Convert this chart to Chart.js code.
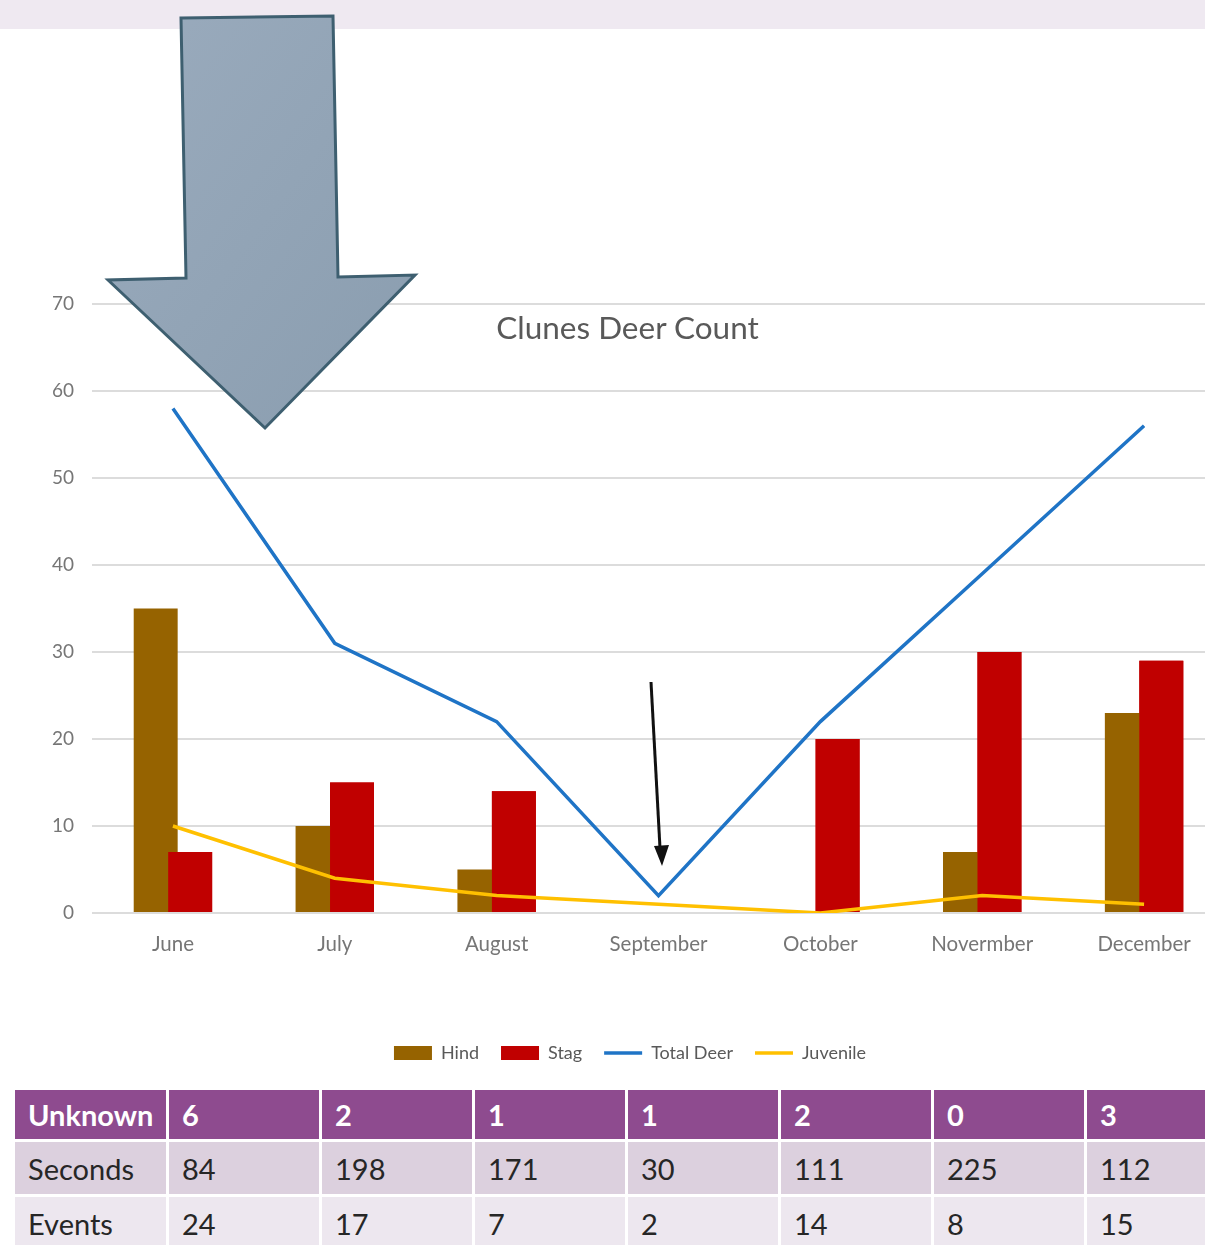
<!DOCTYPE html>
<html>
<head>
<meta charset="utf-8">
<script src="https://cdn.jsdelivr.net/npm/chart.js@4"></script>
<style>
  html, body { margin: 0; padding: 0; background: #fff; }
  body { width: 1205px; height: 1245px; overflow: hidden; position: relative; font-family: Lato, "Open Sans", sans-serif; }
  #band { position: absolute; left: 0; top: 0; width: 1205px; height: 29px; background: #efe9f1; }
  #chartBox { position: absolute; left: 0; top: 30px; width: 1225px; height: 1060px; }
  #title { position: absolute; left: 0; width: 1255px; top: 312px; text-align: center;
           font: 31.5px/31px Lato, sans-serif; color: #595959; }
  #marks { position: absolute; left: 0; top: 0; pointer-events: none; }
  #counts { position: absolute; left: 15px; top: 1090px; width: 1225px; border-collapse: separate; border-spacing: 0; table-layout: fixed; }
  #counts td { font-size: 29px; color: #262626; padding: 0 0 0 13px; vertical-align: middle;
               border-right: 3px solid #fff; border-bottom: 3px solid #fff; white-space: nowrap; }
  #counts tr.head td { background: #8e4b8f; color: #fff; font-weight: bold; height: 49px; }
  #counts tr.odd td { background: #dcd0de; height: 52px; }
  #counts tr.even td { background: #ede7ef; height: 52px; }
</style>
</head>
<body>
<div id="band"></div>
<div id="chartBox"><canvas id="deerChart" width="1225" height="1060"></canvas></div>
<div id="title">Clunes Deer Count</div>
<table id="counts"></table>
<svg id="marks" width="1205" height="1245">
  <defs>
    <linearGradient id="arrowFill" x1="0" y1="0" x2="1" y2="1">
      <stop offset="0" stop-color="#9aabbd"/>
      <stop offset="1" stop-color="#8a9daf"/>
    </linearGradient>
  </defs>
  <polygon points="181,18 333,16 338,277 415,275 265,428 108,280 186,278"
           fill="url(#arrowFill)" stroke="#3e5f70" stroke-width="3" stroke-linejoin="miter"/>
  <line x1="651" y1="682" x2="660" y2="848" stroke="#111" stroke-width="3"/>
  <polygon points="654,846 669,845 662,866" fill="#111"/>
</svg>

<script>
const months = ['June', 'July', 'August', 'September', 'October', 'Novermber', 'December'];
const hind = [35, 10, 5, 0, 0, 7, 23];
const stag = [7, 15, 14, 0, 20, 30, 29];
const totalDeer = [58, 31, 22, 2, 22, 39, 56];
const juvenile = [10, 4, 2, 1, 0, 2, 1];
const yMax = 70;
const yStep = 10;

const unknownRow = [6, 2, 1, 1, 2, 0, 3];
const secondsRow = [84, 198, 171, 30, 111, 225, 112];
const eventsRow = [24, 17, 7, 2, 14, 8, 15];

// table under the chart
const table = document.getElementById('counts');
const colgroup = document.createElement('colgroup');
colgroup.innerHTML = '<col style="width:154px">' + months.map(() => '<col style="width:153px">').join('');
table.appendChild(colgroup);
[['Unknown', unknownRow, 'head'], ['Seconds', secondsRow, 'odd'], ['Events', eventsRow, 'even']].forEach(([label, vals, cls]) => {
    const tr = document.createElement('tr');
    tr.className = cls;
    tr.innerHTML = '<td>' + label + '</td>' + vals.map(v => '<td>' + v + '</td>').join('');
    table.appendChild(tr);
});

// keep Stag painted over the overlapping Hind bar
const stagOnTop = {
    id: 'stagOnTop',
    afterDatasetDraw(chart, args) {
        if (args.index === 0) chart.getDatasetMeta(1).controller.draw();
    }
};

new Chart(document.getElementById('deerChart'), {
    data: {
        labels: months,
        datasets: [
            { type: 'bar', label: 'Hind', data: hind, backgroundColor: '#966300', order: 1,
              categoryPercentage: 0.426, barPercentage: 1.275 },
            { type: 'bar', label: 'Stag', data: stag, backgroundColor: '#c00000', order: 1,
              categoryPercentage: 0.426, barPercentage: 1.275 },
            { type: 'line', label: 'Total Deer', data: totalDeer, borderColor: '#1f74c6', backgroundColor: '#1f74c6',
              borderWidth: 3.5, pointRadius: 0, tension: 0, order: 0 },
            { type: 'line', label: 'Juvenile', data: juvenile, borderColor: '#ffc000', backgroundColor: '#ffc000',
              borderWidth: 3.5, pointRadius: 0, tension: 0, order: 0 }
        ]
    },
    options: {
        responsive: false,
        animation: false,
        layout: { padding: { left: 35, top: 274, right: 0, bottom: 18 } },
        plugins: {
            tooltip: { enabled: false },
            legend: {
                position: 'bottom',
                labels: {
                    font: { family: 'Lato, sans-serif', size: 18 },
                    color: '#595959',
                    usePointStyle: true,
                    pointStyleWidth: 38,
                    boxHeight: 14,
                    padding: 22,
                    generateLabels: chart => {
                        const items = Chart.defaults.plugins.legend.labels.generateLabels(chart);
                        items.forEach(it => {
                            const ds = chart.data.datasets[it.datasetIndex];
                            it.pointStyle = ds.type === 'line' ? 'line' : 'rect';
                        });
                        return items.sort((a, b) => a.datasetIndex - b.datasetIndex);
                    }
                }
            }
        },
        scales: {
            x: {
                grid: { display: false },
                border: { display: false },
                ticks: { font: { family: 'Lato, sans-serif', size: 20.5 }, color: '#767676', padding: 11, maxRotation: 0 },
                afterFit: scale => { scale.height = 109; }
            },
            y: {
                min: 0,
                max: yMax,
                grid: { color: '#dcdcdc', lineWidth: 2, drawTicks: false },
                border: { display: false },
                ticks: { stepSize: yStep, font: { family: 'Lato, sans-serif', size: 19 }, color: '#767676', padding: 18 },
                afterFit: scale => { scale.width = 57; }
            }
        }
    },
    plugins: [stagOnTop]
});
</script>
</body>
</html>
